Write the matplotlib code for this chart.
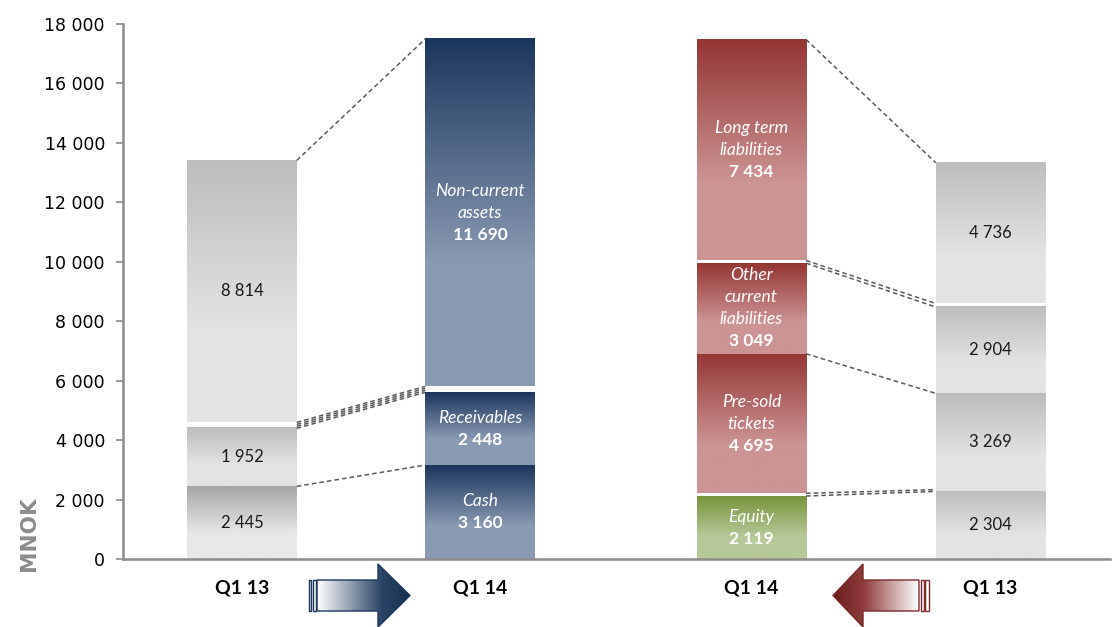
import numpy as np
import matplotlib.pyplot as plt
from matplotlib.colors import LinearSegmentedColormap
from matplotlib.patches import Polygon, Rectangle

# ── Balance sheet data (MNOK) ───────────────────────────────────
categories = ["Q1 13", "Q1 14", "Q1 14", "Q1 13"]

assets_q113 = [2445, 1952, 8814]
assets_q114 = [3160, 2448, 11690]
asset_names = ["Cash", "Receivables", "Non-current\nassets"]

liab_q114 = [2119, 4695, 3049, 7434]
liab_q113 = [2304, 3269, 2904, 4736]
liab_names = ["Equity", "Pre-sold\ntickets", "Other\ncurrent\nliabilities",
              "Long term\nliabilities"]

# white separators stacked between segments (same units as the values)
gaps_assets_q113 = [0, 200]
gaps_assets_q114 = [0, 200]
gaps_liab_q114 = [90, 0, 90]
gaps_liab_q113 = [0, 0, 120]

# ── Layout / style ──────────────────────────────────────────────
POS = [0, 1, 2.14, 3.145]
WIDTH = 0.46
NAVY = ("#1B365D", "#8A9AB2")
RED = ("#943634", "#CC9494")
GREEN = ("#77933C", "#B7C999")
GRAY = ("#BDBDBD", "#E3E3E3")
GRAY_DARK = ("#A6A6A6", "#E8E8E8")
LINE = "#5A5A5A"
AXIS = "#8C8C8C"

LABEL_FONT = ["Lato", "DejaVu Sans"]


def fmt(v):
    return f"{v:,.0f}".replace(",", " ")


def grad_cmap(dark, light):
    return LinearSegmentedColormap.from_list(
        "g", [(0, dark), (0.65, light), (1, light)])


def stack(values, gaps):
    bottoms = []
    y = 0
    for i, v in enumerate(values):
        if i > 0:
            y += gaps[i - 1]
        bottoms.append(y)
        y += v
    return bottoms


def draw_bar(ax, x, values, gaps, colours):
    bottoms = stack(values, gaps)
    grad = np.linspace(0, 1, 256).reshape(-1, 1)
    for v, b, c in zip(values, bottoms, colours):
        ax.imshow(grad, cmap=grad_cmap(*c), aspect="auto", origin="upper",
                  extent=(x - WIDTH / 2, x + WIDTH / 2, b, b + v),
                  interpolation="bilinear", zorder=2)
    return bottoms


def connect(ax, xl, xr, vl, bl, gl, vr, br, gr):
    """Dashed series lines between two stacked bars."""
    # top of the bars
    ax.plot([xl, xr], [bl[-1] + vl[-1], br[-1] + vr[-1]], ls=(0, (3, 2)),
            color=LINE, lw=1.1, zorder=3)
    for k in range(1, len(vl)):
        lo_l, hi_l = bl[k - 1] + vl[k - 1], bl[k]
        lo_r, hi_r = br[k - 1] + vr[k - 1], br[k]
        g = max(hi_l - lo_l, hi_r - lo_r)
        n = 1 if g == 0 else (4 if g >= 150 else 2)
        if n > 1:
            if hi_l - lo_l < 40:
                lo_l, hi_l = lo_l - 30, hi_l + 30
            if hi_r - lo_r < 40:
                lo_r, hi_r = lo_r - 30, hi_r + 30
        for yl, yr in zip(np.linspace(lo_l, hi_l, n), np.linspace(lo_r, hi_r, n)):
            ax.plot([xl, xr], [yl, yr], ls=(0, (3, 2)), color=LINE, lw=1.1,
                    zorder=3)


fig = plt.figure(figsize=(11.15, 6.27), dpi=100)
ax = fig.add_axes([123 / 1115, 68 / 627, 987 / 1115, 535 / 627])

# ── Bars ────────────────────────────────────────────────────────
gray_cols3 = [GRAY_DARK, GRAY, GRAY]
gray_cols4 = [GRAY, GRAY, GRAY, GRAY]
b0 = draw_bar(ax, POS[0], assets_q113, gaps_assets_q113, gray_cols3)
b1 = draw_bar(ax, POS[1], assets_q114, gaps_assets_q114, [NAVY] * 3)
b2 = draw_bar(ax, POS[2], liab_q114, gaps_liab_q114, [GREEN, RED, RED, RED])
b3 = draw_bar(ax, POS[3], liab_q113, gaps_liab_q113, gray_cols4)

connect(ax, POS[0] + WIDTH / 2, POS[1] - WIDTH / 2,
        assets_q113, b0, gaps_assets_q113, assets_q114, b1, gaps_assets_q114)
connect(ax, POS[2] + WIDTH / 2, POS[3] - WIDTH / 2,
        liab_q114, b2, gaps_liab_q114, liab_q113, b3, gaps_liab_q113)

# ── Labels inside the bars ──────────────────────────────────────
for x, vals, bots in [(POS[0], assets_q113, b0), (POS[3], liab_q113, b3)]:
    for v, b in zip(vals, bots):
        ax.text(x, b + v / 2, fmt(v), ha="center", va="center", fontsize=12,
                color="#1A1A1A", family=LABEL_FONT, zorder=4)

LINE_H = 740  # height of one text line in data units
for x, vals, bots, names in [(POS[1], assets_q114, b1, asset_names),
                             (POS[2], liab_q114, b2, liab_names)]:
    for v, b, name in zip(vals, bots, names):
        lines = name.split("\n")
        n = len(lines) + 1
        top = b + v / 2 + (n - 1) * LINE_H / 2
        for i, ln in enumerate(lines):
            ax.text(x, top - i * LINE_H, ln, ha="center", va="center",
                    fontsize=12.5, style="italic", color="white",
                    family=LABEL_FONT, zorder=4)
        ax.text(x, top - len(lines) * LINE_H, fmt(v), ha="center",
                va="center", fontsize=12.5, fontweight="bold", color="white",
                family=LABEL_FONT, zorder=4)

# ── Axes ────────────────────────────────────────────────────────
ax.set_xlim(-0.5, 3.647)
ax.set_ylim(0, 18000)
ax.set_yticks(range(0, 18001, 2000))
ax.set_yticklabels([fmt(v) for v in range(0, 18001, 2000)], fontsize=12.5,
                   color="black")
ax.set_xticks(POS)
ax.set_xticklabels(categories, fontsize=14, fontweight="bold",
                   family=LABEL_FONT)
ax.tick_params(axis="x", length=0, pad=15)
ax.tick_params(axis="y", length=5, width=1.2, color=AXIS, pad=8)
for s in ["top", "right"]:
    ax.spines[s].set_visible(False)
for s in ["left", "bottom"]:
    ax.spines[s].set_color(AXIS)
    ax.spines[s].set_linewidth(1.8)

fig.text(29 / 1115, 1 - 534 / 627, "MNOK", rotation=90, ha="center",
         va="center", fontsize=15.5, fontweight="bold", color=AXIS)

# ── Arrows under the axis (pixel coordinates) ───────────────────
ov = fig.add_axes([0, 0, 1, 1], facecolor="none")
ov.set_xlim(0, 1115)
ov.set_ylim(627, 0)
ov.axis("off")


def draw_arrow(ov, pts, x0, x1, stops, edge, stubs):
    poly = Polygon(pts, closed=True, facecolor="none", edgecolor=edge,
                   lw=1.0, zorder=3)
    ov.add_patch(poly)
    cm = LinearSegmentedColormap.from_list("a", stops)
    im = ov.imshow(np.linspace(0, 1, 256).reshape(1, -1), cmap=cm,
                   aspect="auto", extent=(x0, x1, 627, 560),
                   interpolation="bilinear", zorder=2)
    im.set_clip_path(poly)
    for sx0, sx1 in stubs:
        ov.add_patch(Rectangle((sx0, 580), sx1 - sx0, 31, facecolor="white",
                               edgecolor=edge, lw=1.0, zorder=3))


draw_arrow(ov, [(317, 580), (378, 580), (378, 564), (410, 595.5),
                (378, 627), (378, 611), (317, 611)],
           317, 410, [(0, "#FFFFFF"), (0.7, "#2A4466"), (1, "#16304F")],
           "#1B365D", [(308.5, 311), (312.5, 315.5)])
draw_arrow(ov, [(919, 580), (863, 580), (863, 564), (833, 595.5),
                (863, 627), (863, 611), (919, 611)],
           833, 919, [(0, "#6A1E1E"), (0.35, "#8E3A3A"), (1, "#FFFFFF")],
           "#7A2A2A", [(920.5, 923.5), (925, 928.5)])

fig.savefig("out.png", dpi=100)
